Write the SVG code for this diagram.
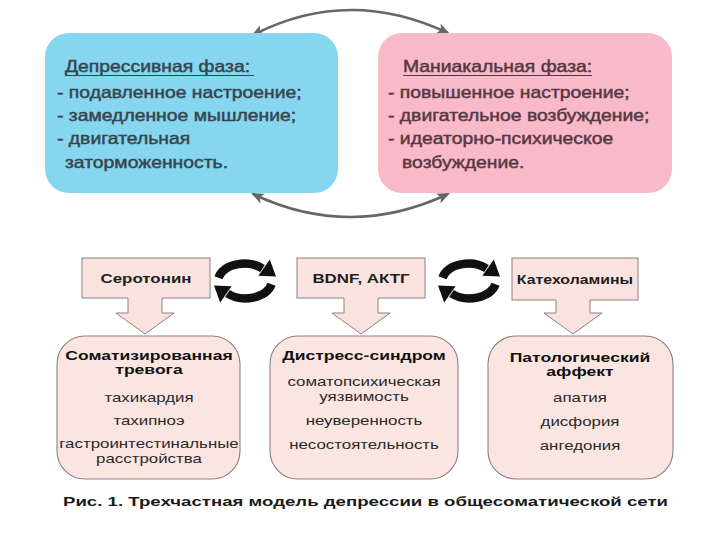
<svg xmlns="http://www.w3.org/2000/svg" width="720" height="540" viewBox="0 0 720 540">
<style>
.tl{font-family:"Liberation Sans",Arial,sans-serif;font-size:16px;fill:#38444e;stroke:#38444e;stroke-width:0.45}
.tr{font-family:"Liberation Sans",Arial,sans-serif;font-size:16px;fill:#573842;stroke:#573842;stroke-width:0.45}
.sb{font-family:"Liberation Sans",Arial,sans-serif;font-size:13px;font-weight:bold;fill:#1e1e1e;text-anchor:middle}
.bb{font-family:"Liberation Sans",Arial,sans-serif;font-size:13.5px;font-weight:bold;fill:#111;text-anchor:middle}
.br{font-family:"Liberation Sans",Arial,sans-serif;font-size:13.5px;fill:#2a2a2a;text-anchor:middle}
.cap{font-family:"Liberation Sans",Arial,sans-serif;font-size:13px;font-weight:bold;fill:#1a1a1a}
.sm{fill:#fae3df;stroke:#8c8080;stroke-width:1}
.bx{fill:#fbe5e1;stroke:#8c8080;stroke-width:1.1}
.arc{fill:none;stroke:#666;stroke-width:2.6}
.cyc{fill:none;stroke:#111;stroke-width:8.5}
</style>
<defs>
<marker id="ah" viewBox="0 0 12 10" refX="10" refY="5" markerWidth="13" markerHeight="11" markerUnits="userSpaceOnUse" orient="auto-start-reverse">
<path d="M0,0 L12,5 L0,10 L3,5 Z" fill="#666"/>
</marker>
<g id="cycle">
<path class="cyc" d="M-26.6,-3.3 A27,19 0 0 1 17.5,-12.5"/>
<polygon points="13.4,-5.2 24.8,-21.6 31,-4.5" fill="#111"/>
<path class="cyc" d="M26.6,3.3 A27,19 0 0 1 -17.5,12.5"/>
<polygon points="-13.4,5.2 -24.8,21.6 -31,4.5" fill="#111"/>
</g>
</defs>
<rect width="720" height="540" fill="#fff"/>

<g id="connectors">
<path class="arc" d="M448,33 Q348,-14 253,35" marker-end="url(#ah)" marker-start="url(#ah)"/>
<path class="arc" d="M448,194 Q350,240 253,194" marker-end="url(#ah)" marker-start="url(#ah)"/>
<use href="#cycle" x="245" y="281"/>
<use href="#cycle" x="469" y="281"/>
</g>

<g id="depressive">
<rect x="45" y="33" width="293" height="160" rx="24" fill="#85d6ee"/>
<g transform="translate(57,0) scale(1.21,1)">
<text class="tl" x="6.6" y="72">Депрессивная фаза:</text>
<text class="tl" x="0" y="98">- подавленное настроение;</text>
<text class="tl" x="0" y="121">- замедленное мышление;</text>
<text class="tl" x="0" y="144">- двигательная</text>
<text class="tl" x="6.6" y="168">заторможенность.</text>
</g>
<line x1="65" y1="75.5" x2="254" y2="75.5" stroke="#38444e" stroke-width="1.2"/>
</g>

<g id="manic">
<rect x="378" y="33" width="294" height="160" rx="24" fill="#f8b9c8"/>
<g transform="translate(388,0) scale(1.21,1)">
<text class="tr" x="12.4" y="72">Маниакальная фаза:</text>
<text class="tr" x="0" y="98">- повышенное настроение;</text>
<text class="tr" x="0" y="121">- двигательное возбуждение;</text>
<text class="tr" x="0" y="144">- идеаторно-психическое</text>
<text class="tr" x="11.6" y="168">возбуждение.</text>
</g>
<line x1="403" y1="75.5" x2="592" y2="75.5" stroke="#573842" stroke-width="1.2"/>
</g>

<g id="serotonin">
<rect class="sm" x="82" y="258" width="128" height="40"/>
<text class="sb" transform="translate(146,283) scale(1.3,1)">Серотонин</text>
<polygon points="128,297 162,297 162,313 174,313 145,334 116,313 128,313" fill="#fae3df"/>
<polyline points="128,298 128,313 116,313 145,334 174,313 162,313 162,298" fill="none" stroke="#8c8080"/>
</g>

<g id="bdnf">
<rect class="sm" x="297" y="258" width="128" height="40"/>
<text class="sb" transform="translate(361,283) scale(1.3,1)">BDNF, АКТГ</text>
<polygon points="344,297 378,297 378,313 390,313 361,334 332,313 344,313" fill="#fae3df"/>
<polyline points="344,298 344,313 332,313 361,334 390,313 378,313 378,298" fill="none" stroke="#8c8080"/>
</g>

<g id="catecholamines">
<rect class="sm" x="512" y="258" width="126" height="42"/>
<text class="sb" transform="translate(575,284) scale(1.22,1)">Катехоламины</text>
<polygon points="556,299 590,299 590,313 602,313 573,334 544,313 556,313" fill="#fae3df"/>
<polyline points="556,300 556,313 544,313 573,334 602,313 590,313 590,300" fill="none" stroke="#8c8080"/>
</g>

<g id="anxiety">
<rect class="bx" x="57" y="336" width="183" height="143" rx="28"/>
<text class="bb" transform="translate(149,360) scale(1.3,1)">Соматизированная</text>
<text class="bb" transform="translate(149,374) scale(1.3,1)">тревога</text>
<text class="br" transform="translate(149,402) scale(1.25,1)">тахикардия</text>
<text class="br" transform="translate(149,425) scale(1.25,1)">тахипноэ</text>
<text class="br" transform="translate(149,448) scale(1.25,1)">гастроинтестинальные</text>
<text class="br" transform="translate(149,463) scale(1.25,1)">расстройства</text>
</g>

<g id="distress">
<rect class="bx" x="270" y="336" width="188" height="143" rx="28"/>
<text class="bb" transform="translate(364,360) scale(1.3,1)">Дистресс-синдром</text>
<text class="br" transform="translate(364,386) scale(1.25,1)">соматопсихическая</text>
<text class="br" transform="translate(364,401) scale(1.25,1)">уязвимость</text>
<text class="br" transform="translate(364,425) scale(1.25,1)">неуверенность</text>
<text class="br" transform="translate(364,449) scale(1.25,1)">несостоятельность</text>
</g>

<g id="affect">
<rect class="bx" x="488" y="336" width="185" height="143" rx="28"/>
<text class="bb" transform="translate(580,362) scale(1.3,1)">Патологический</text>
<text class="bb" transform="translate(580,376) scale(1.3,1)">аффект</text>
<text class="br" transform="translate(580,402) scale(1.25,1)">апатия</text>
<text class="br" transform="translate(580,426) scale(1.25,1)">дисфория</text>
<text class="br" transform="translate(580,450) scale(1.25,1)">ангедония</text>
</g>

<text class="cap" x="63" y="506" textLength="605" lengthAdjust="spacingAndGlyphs">Рис. 1. Трехчастная модель депрессии в общесоматической сети</text>
</svg>
